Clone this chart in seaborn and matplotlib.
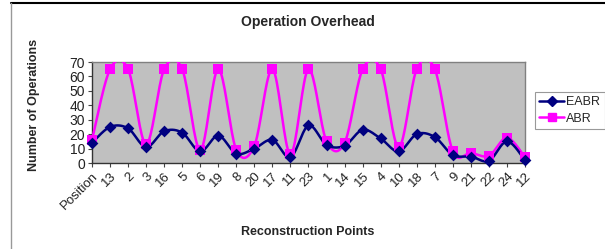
import numpy as np
import pandas as pd
import matplotlib
matplotlib.use("Agg")
import matplotlib.pyplot as plt
import seaborn as sns
from matplotlib.lines import Line2D

categories = ["Position", "13", "2", "3", "16", "5", "6", "19", "8", "20", "17", "11",
              "23", "1", "14", "15", "4", "10", "18", "7", "9", "21", "22", "24", "12"]
eabr = [14, 25, 24, 11, 22, 21, 8, 19, 6.5, 10, 16, 4, 26, 12.5, 12, 23, 17, 8, 20, 18, 5.5, 4.5, 1.5, 15, 2]
abr = [16, 65, 65, 13, 65, 65, 9, 65, 9, 12, 65, 6, 65, 15, 14, 65, 65, 11, 65, 65, 8, 7, 5, 17.5, 4]
y_ticks = [0, 10, 20, 30, 40, 50, 60, 70]

sns.set_theme(style="white")
plt.rcParams['font.family'] = ['Liberation Sans', 'DejaVu Sans']


def smooth(vals, n=20):
    """Excel-style Bezier smoothing of a category line (render only)."""
    p = np.column_stack([np.arange(len(vals), dtype=float), np.asarray(vals, float)])
    xs, ys = [], []
    for i in range(len(p) - 1):
        p0 = p[i - 1] if i > 0 else p[i]
        p3 = p[i + 2] if i + 2 < len(p) else p[i + 1]
        c1 = p[i] + (p[i + 1] - p0) / 6
        c2 = p[i + 1] - (p3 - p[i]) / 6
        t = np.linspace(0, 1, n, endpoint=(i == len(p) - 2))[:, None]
        b = ((1 - t) ** 3) * p[i] + 3 * ((1 - t) ** 2) * t * c1 + 3 * (1 - t) * t ** 2 * c2 + t ** 3 * p[i + 1]
        xs.extend(b[:, 0]); ys.extend(b[:, 1])
    return np.array(xs), np.array(ys)


fig = plt.figure(figsize=(6.05, 2.49), dpi=100)
ax = fig.add_axes([92 / 605, 1 - 163 / 249, (525 - 92) / 605, (163 - 62) / 249])
ax.set_facecolor("#c0c0c0")

navy = "#000080"
magenta = "#ff00ff"

for vals, color, marker, ms in [(abr, magenta, "s", 7), (eabr, navy, "D", 6)]:
    sx, sy = smooth(vals)
    sns.lineplot(x=sx, y=sy, sort=False, color=color, lw=1.8, ax=ax, estimator=None, zorder=3)
    df = pd.DataFrame({"x": np.arange(len(vals)), "y": vals})
    sns.scatterplot(data=df, x="x", y="y", marker=marker, s=ms ** 2, color=color,
                    edgecolor=color, linewidth=0, ax=ax, zorder=4, clip_on=False)

ax.set_xlim(0, len(categories) - 1)
ax.set_ylim(0, 70)
ax.set_yticks(y_ticks)
ax.set_yticklabels([str(v) for v in y_ticks], fontsize=10, color="#222222")
ax.set_xticks(np.arange(len(categories)))
ax.set_xticklabels(categories, rotation=45, ha="right", rotation_mode="anchor", fontsize=9.5, color="#222222")
ax.tick_params(axis="both", which="both", direction="out", length=3, width=0.8, color="#444444",
               bottom=True, left=True, pad=2)
for side in ["top", "right"]:
    ax.spines[side].set_color("#808080")
    ax.spines[side].set_linewidth(1.0)
for side in ["left", "bottom"]:
    ax.spines[side].set_color("#333333")
    ax.spines[side].set_linewidth(1.0)

ax.set_xlabel("")
ax.set_ylabel("")
fig.text(308 / 605, 1 - 22 / 249, "Operation Overhead", ha="center", va="center",
         fontsize=10, fontweight="bold")
fig.text(34 / 605, 1 - 105 / 249, "Number of Operations", ha="center", va="center",
         rotation=90, fontsize=9, fontweight="bold")
fig.text(308 / 605, 1 - 232 / 249, "Reconstruction Points", ha="center", va="center",
         fontsize=9, fontweight="bold")

handles = [Line2D([], [], color=navy, marker="D", ms=5, lw=1.8),
           Line2D([], [], color=magenta, marker="s", ms=6, lw=1.8)]
leg = fig.legend(handles, ["EABR", "ABR"], loc="upper left",
                 bbox_to_anchor=(535 / 605, 1 - 92 / 249), frameon=True, fancybox=False,
                 fontsize=9, handlelength=2.0, handletextpad=0.15, borderpad=0.35,
                 labelspacing=0.35, borderaxespad=0)
leg.get_frame().set_edgecolor("#808080")
leg.get_frame().set_linewidth(0.8)

# outer chart border (partially visible in the reference)
fig.add_artist(Line2D([11 / 605, 1], [1 - 3 / 249, 1 - 3 / 249], transform=fig.transFigure,
                      color="black", lw=1.5))
fig.add_artist(Line2D([11 / 605, 11 / 605], [0, 1 - 3 / 249], transform=fig.transFigure,
                      color="#999999", lw=1.0))

fig.savefig("out.png", dpi=100)
